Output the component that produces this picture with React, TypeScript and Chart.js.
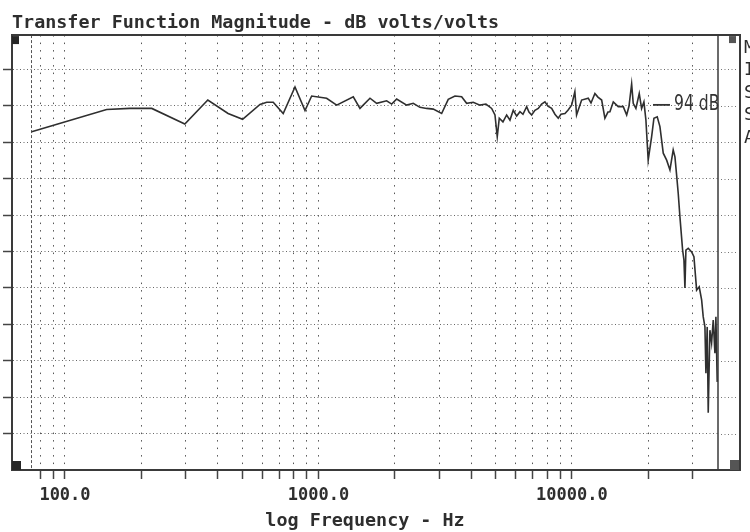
import React, { useEffect, useRef } from "react";
import { Chart, registerables } from "chart.js";

Chart.register(...registerables);

const TITLE = "Transfer Function Magnitude - dB volts/volts";
const X_TITLE = "log Frequency - Hz";
const REF_LABEL = "94 dB";
const REF_LEVEL_DB = 94;
const SIDE_LETTERS = ["M", "I", "S", "S", "A"];

const FREQ_HZ = [
  73.9, 146, 180, 220, 297, 366, 440, 502, 588, 625, 663, 726, 808, 885, 940,
  1077, 1180, 1372, 1458, 1597, 1697, 1858, 1945, 2035, 2228, 2366, 2514, 2672,
  2838, 3062, 3251, 3456, 3672, 3842, 4080, 4336, 4578, 4823, 4970, 5074, 5168,
  5344, 5527, 5695, 5868, 6052, 6237, 6409, 6628, 6768, 6934, 7145, 7364, 7594,
  7825, 8041, 8316, 8569, 8831, 9050, 9385, 9643, 9972, 10270, 10430, 10920,
  11595, 11890, 12320, 12660, 13100, 13490, 13870, 14120, 14560, 15230, 15940,
  16440, 16790, 17200, 17450, 17880, 18430, 18830, 19230, 19580, 19990, 20620,
  21060, 21700, 22240, 22920, 23640, 24360, 25090, 25490, 25880, 26260, 26670,
  27330, 27660, 27910, 28160, 28760, 29660, 30290, 31040, 31780, 32480, 32950,
  33470, 33770, 34170, 34490, 35020, 35560, 36090, 36650, 36980, 37420,
];

const MAG_DB = [
  86.9, 93.0, 93.3, 93.3, 89.0, 95.6, 91.9, 90.3, 94.4, 95.0, 95.0, 91.9, 99.2,
  92.7, 96.7, 96.1, 94.2, 96.5, 93.3, 96.1, 94.7, 95.4, 94.5, 95.9, 94.2, 94.7,
  93.6, 93.3, 93.1, 91.9, 95.8, 96.7, 96.5, 94.7, 95.0, 94.2, 94.5, 93.3, 91.5,
  85.5, 90.6, 89.6, 91.5, 90.1, 92.8, 91.2, 92.4, 91.7, 93.8, 92.3, 91.5, 92.8,
  93.3, 94.5, 95.1, 93.9, 93.3, 91.7, 90.6, 91.7, 91.9, 92.8, 94.2, 97.9, 91.5,
  95.6, 96.1, 94.8, 97.4, 96.4, 95.6, 90.6, 92.3, 92.4, 95.1, 93.8, 93.8, 91.5,
  93.9, 100.0, 94.7, 93.3, 97.4, 93.3, 95.1, 90.1, 79.1, 85.5, 90.6, 91.0, 88.3,
  81.0, 79.1, 76.4, 81.9, 80.0, 75.0, 70.0, 63.5, 54.4, 51.7, 44.0, 54.4, 54.9,
  53.9, 52.6, 43.4, 44.3, 40.7, 36.1, 33.3, 20.6, 33.3, 9.7, 32.4, 28.9, 35.2,
  26.1, 36.1, 18.2,
];

const X_GRID_HZ = [
  73.9, 80, 90, 100, 200, 300, 400, 500, 600, 700, 800, 900, 1000, 2000, 3000,
  4000, 5000, 6000, 7000, 8000, 9000, 10000, 20000, 30000,
];
const X_LABELED_HZ = [100, 1000, 10000];
const Y_GRID_DB = [4, 14, 24, 34, 44, 54, 64, 74, 84, 94, 104];

const X_MIN_HZ = 61.8;
const X_MAX_HZ = 37690;
const Y_MIN_DB = -6;
const Y_MAX_DB = 113.44;

const MONO = "'DejaVu Sans Mono', 'Liberation Mono', monospace";
const INK = "#2e2e2e";

const decorPlugin = {
  id: "decor",
  afterDraw(chart: any) {
    const { ctx, chartArea: a, scales } = chart;
    const outerRight = 740;
    ctx.save();
    // outer frame
    ctx.strokeStyle = "#3a3a3a";
    ctx.lineWidth = 2;
    ctx.beginPath();
    ctx.moveTo(a.left, a.top);
    ctx.lineTo(outerRight, a.top);
    ctx.lineTo(outerRight, a.bottom);
    ctx.lineTo(a.right, a.bottom);
    ctx.stroke();
    ctx.lineWidth = 1.5;
    ctx.beginPath();
    ctx.moveTo(a.right, a.top);
    ctx.lineTo(a.right, a.bottom);
    ctx.stroke();
    // gridline extensions in the side strip
    ctx.strokeStyle = "#777";
    ctx.lineWidth = 1;
    ctx.setLineDash([1, 2.5]);
    for (const v of Y_GRID_DB) {
      const y = Math.round(scales.y.getPixelForValue(v)) + 0.5;
      ctx.beginPath();
      ctx.moveTo(a.right + 3, y);
      ctx.lineTo(outerRight - 3, y);
      ctx.stroke();
    }
    ctx.setLineDash([]);
    // corner markers
    ctx.fillStyle = "#262626";
    ctx.fillRect(a.left, a.top + 1, 7, 8);
    ctx.fillRect(a.left, a.bottom - 9, 9, 9);
    ctx.fillStyle = "#555";
    ctx.fillRect(729, a.top + 1, 7, 7);
    ctx.fillRect(730, a.bottom - 10, 9, 10);
    // reference level annotation
    const yRef = scales.y.getPixelForValue(REF_LEVEL_DB) - 1;
    ctx.strokeStyle = "#333";
    ctx.lineWidth = 1.8;
    ctx.beginPath();
    ctx.moveTo(a.right - 65, yRef);
    ctx.lineTo(a.right - 48, yRef);
    ctx.stroke();
    ctx.fillStyle = "#333";
    ctx.font = "19px 'DejaVu Sans', sans-serif";
    ctx.textBaseline = "middle";
    ctx.textAlign = "left";
    ctx.save();
    ctx.translate(a.right - 44, yRef);
    ctx.scale(0.82, 1.1);
    ctx.fillText(REF_LABEL, 0, 0);
    ctx.restore();
    // side legend letters (cut off by page edge)
    ctx.font = `18px ${MONO}`;
    ctx.fillStyle = INK;
    SIDE_LETTERS.forEach((t, i) => {
      ctx.fillText(t, 744, 48 + i * 22.5);
    });
    ctx.restore();
  },
};

export default function App() {
  const canvasRef = useRef<HTMLCanvasElement | null>(null);

  useEffect(() => {
    if (!canvasRef.current) return;
    const data = FREQ_HZ.map((f, i) => ({ x: f, y: MAG_DB[i] }));
    const chart = new Chart(canvasRef.current, {
      type: "line",
      data: {
        datasets: [
          {
            data,
            borderColor: "#2f2f2f",
            borderWidth: 1.6,
            pointRadius: 0,
            tension: 0,
            fill: false,
          },
        ],
      },
      options: {
        responsive: false,
        animation: false,
        devicePixelRatio: 1,
        parsing: false,
        layout: { padding: { left: 3, right: 32, top: 0, bottom: 0 } },
        plugins: {
          legend: { display: false },
          tooltip: { enabled: false },
          title: {
            display: true,
            text: TITLE,
            align: "start",
            fullSize: false,
            color: INK,
            font: { family: MONO, size: 18.4, weight: "bold", lineHeight: 1.2 },
            padding: { top: 12, bottom: 1 },
          },
        },
        scales: {
          x: {
            type: "logarithmic",
            min: X_MIN_HZ,
            max: X_MAX_HZ,
            afterBuildTicks: (s: any) => {
              s.ticks = X_GRID_HZ.map((v) => ({ value: v }));
            },
            afterFit: (s: any) => {
              s.height = 62;
            },
            ticks: {
              autoSkip: false,
              maxRotation: 0,
              minRotation: 0,
              padding: 6,
              color: INK,
              font: { family: MONO, size: 17, weight: "bold" },
              callback: (v: any) =>
                X_LABELED_HZ.some((t) => Math.abs(t - Number(v)) < 1e-6)
                  ? Number(v).toFixed(1)
                  : "",
            },
            grid: {
              color: "#555",
              lineWidth: 1,
              tickLength: 9,
              tickWidth: 1.5,
              tickColor: (c: any) => (c.index === 0 ? "rgba(0,0,0,0)" : "#444"),
            },
            border: {
              display: true,
              color: "#3a3a3a",
              width: 2,
              dash: (c: any) => (c.index === 0 ? [3, 2] : [1.5, 6]),
            },
            title: {
              display: true,
              text: X_TITLE,
              color: INK,
              font: { family: MONO, size: 18.4, weight: "bold", lineHeight: 1.15 },
              padding: { top: 0, bottom: 0 },
            },
          },
          y: {
            type: "linear",
            min: Y_MIN_DB,
            max: Y_MAX_DB,
            afterBuildTicks: (s: any) => {
              s.ticks = Y_GRID_DB.map((v) => ({ value: v }));
            },
            afterFit: (s: any) => {
              s.width = 9;
            },
            ticks: { display: false },
            grid: {
              color: "#666",
              lineWidth: 1,
              tickLength: 9,
              tickWidth: 1.5,
              tickColor: "#444",
            },
            border: {
              display: true,
              color: "#3a3a3a",
              width: 2,
              dash: [1, 2.5],
            },
          },
        },
      },
      plugins: [decorPlugin],
    });
    return () => chart.destroy();
  }, []);

  return (
    <div
      style={{
        position: "absolute",
        left: 0,
        top: 0,
        width: 750,
        height: 532,
        background: "#ffffff",
      }}
    >
      <canvas ref={canvasRef} width={750} height={532} />
    </div>
  );
}
